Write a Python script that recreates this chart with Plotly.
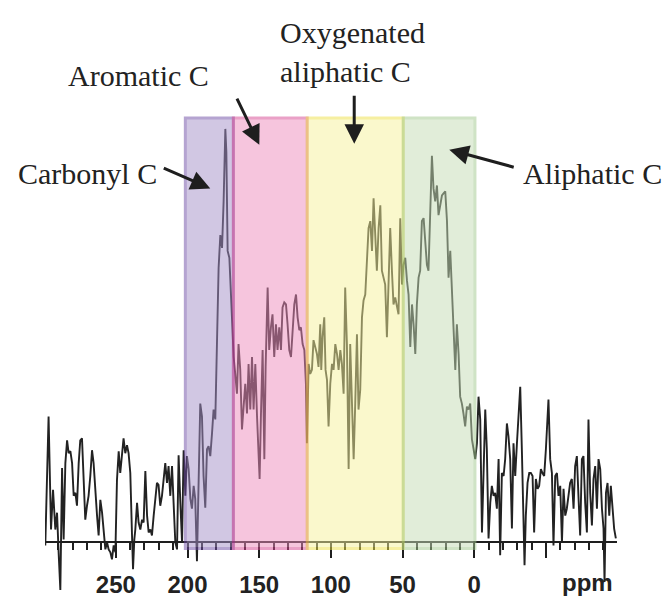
import plotly.graph_objects as go

# --- spectrum data (13C NMR, ppm vs. intensity, arbitrary units) ---
ppm = [
    299.2, 296.9, 295.2, 293.8, 292.2, 291.0, 289.9, 288.7, 287.5, 286.4, 285.2, 284.0, 282.9, 281.7, 280.5,
    279.4, 278.2, 277.1, 275.9, 274.8, 273.6, 272.4, 271.3, 270.1, 269.0, 267.8, 266.6, 265.5, 264.3, 263.1,
    262.0, 260.8, 259.6, 258.5, 257.3, 256.1, 255.0, 253.8, 252.7, 251.5, 250.3, 249.2, 248.0, 246.9, 245.7,
    244.6, 243.4, 242.2, 241.1, 239.9, 238.7, 238.0, 237.1, 236.4, 235.2, 234.1, 232.9, 231.7, 230.6, 229.4,
    228.2, 227.1, 225.9, 224.8, 223.6, 222.5, 221.3, 220.2, 219.0, 217.8, 216.7, 215.5, 214.3, 213.2, 212.0,
    210.8, 209.7, 208.5, 207.3, 206.2, 205.0, 203.8, 202.7, 201.5,
    200.4, 199.2, 198.0, 196.9, 195.7, 194.6, 193.4, 192.3, 191.1, 189.9, 188.8, 187.6, 186.4, 185.3, 184.1,
    182.9, 181.8, 180.6, 179.4, 178.3, 177.1, 175.9, 174.8, 173.6, 172.9, 172.0, 170.8, 170.2, 169.0, 167.8,
    166.7, 165.5, 164.4, 163.2, 162.0, 160.9, 159.7, 158.5, 157.4, 156.2, 155.0, 153.9, 152.7, 151.5, 150.4,
    149.7, 148.8, 147.6, 146.4, 145.5, 144.1, 143.0, 141.8, 140.7, 139.5, 138.3, 137.2, 136.0, 134.8, 133.7,
    132.5, 131.3, 130.2, 129.0, 127.8, 126.7, 125.5, 124.3, 123.2, 122.0, 120.9, 119.7, 118.5, 117.4, 116.7,
    115.5, 114.4, 113.2, 112.1, 110.9, 109.7, 108.6, 107.4, 106.7, 105.8, 104.6, 103.7, 102.7, 101.6, 100.4,
    99.2, 98.1, 96.9, 95.7, 94.6, 93.4, 92.3, 91.1, 90.0, 88.8, 87.6, 86.5, 85.3, 84.1, 83.0,
    81.8, 80.7, 79.5, 78.3, 77.2, 76.0, 74.8, 73.7, 72.5, 71.3, 70.2, 69.0, 67.9, 66.7, 65.5,
    64.4, 63.2, 62.1, 60.9, 59.7, 58.6, 57.4, 56.3, 55.1, 53.9, 52.8, 51.6, 50.4,
    49.3, 48.1, 46.9, 45.8, 44.6, 43.4, 42.3, 41.1, 40.0, 38.8, 37.7, 36.5, 35.3, 34.2, 33.0,
    31.9, 30.7, 29.5, 28.4, 27.2, 26.0, 24.9, 23.7, 22.5, 21.4, 20.2, 19.0, 17.9, 16.7, 15.6,
    14.4, 13.2, 12.1, 10.9, 9.8, 8.6, 7.5, 6.3, 5.1, 4.0, 2.8, 1.6,
    -0.7, -1.9, -3.0, -4.2, -5.4, -6.5, -7.7, -8.8, -10.0, -11.2, -12.3, -13.5, -14.6, -15.8, -17.0,
    -18.1, -19.3, -20.5, -21.6, -22.8, -23.9, -25.1, -26.3, -27.4, -28.6, -29.8, -30.9, -32.1, -33.3, -34.4,
    -35.1, -36.0, -37.2, -38.4, -39.5, -40.7, -41.8, -43.0, -44.2, -45.3, -46.5, -47.6, -48.8, -50.0, -51.1,
    -51.8, -53.0, -54.2, -55.3, -56.5, -57.7, -58.8, -60.0, -61.2, -62.3, -63.5, -64.6, -65.8, -66.9, -68.1,
    -69.3, -70.4, -71.6, -72.7, -73.9, -75.1, -76.2, -77.4, -78.6, -79.7, -80.9, -82.1, -83.2, -84.4, -85.6,
    -86.7, -87.9, -89.1, -90.2, -90.9, -91.9, -93.0, -94.2, -95.3, -96.5, -97.6, -98.8,
]
intensity = [
    -3, 127, 13, 53, 13, 30, -10, -48, 75, 3, 80, 103, 90, 92, 80,
    47, 50, 37, 80, 103, 105, 63, 23, 37, 47, 67, 93, 80, 47, 27,
    7, 43, 30, 13, -7, 0, -7, -10, -17, -3, -10, 63, 92, 70, 87,
    105, 90, 98, 90, 70, 7, -27, 3, 13, 40, 20, 13, 23, 20, 72,
    27, 10, 13, 7, 27, 47, 60, 58, 37, 47, 63, 80, 60, 77, 47,
    77, 40, 0, -7, 88, 40, 0, 93, 47,
    87, 74, 44, 34, 57, 44, -19, 44, 140, 127, 67, 35, 94, 97, 87,
    110, 134, 124, 194, 277, 310, 297, 344, 417, 394, 294, 287, 267, 227, 187,
    170, 150, 200, 174, 114, 137, 160, 130, 180, 134, 187, 134, 180, 127, 94,
    64, 127, 194, 84, 177, 257, 194, 217, 230, 187, 220, 194, 217, 194, 237,
    242, 240, 220, 194, 187, 214, 240, 250, 227, 214, 217, 200, 194, 160, 100,
    180, 170, 174, 204, 197, 190, 177, 220, 174, 207, 227, 174, 164, 117, 160,
    180, 174, 200, 190, 174, 194, 180, 150, 257, 200, 74, 200, 147, 84, 140,
    210, 134, 154, 227, 244, 250, 294, 317, 324, 294, 347, 307, 274, 317, 340,
    274, 267, 260, 207, 280, 317, 274, 240, 247, 237, 230, 327, 260,
    280, 287, 264, 250, 197, 240, 220, 190, 240, 267, 274, 324, 327, 307, 280,
    274, 340, 390, 357, 344, 360, 330, 340, 350, 352, 354, 324, 267, 294, 257,
    207, 174, 220, 190, 147, 140, 130, 117, 137, 134, 140, 104,
    84, 100, 147, 124, 10, 67, 134, 94, 4, 40, 57, 47, 50, 34, 84,
    -13, 70, 67, 84, 120, 107, 84, 14, 100, 67, 100, 127, 157, 90, 0,
    -23, 27, 60, 70, 70, 67, 10, 64, 54, 57, 74, 70, 67, 94, 124,
    144, 84, 70, -3, 67, 70, 47, 57, 0, 54, 27, 34, 50, 60, 64,
    34, 77, 87, 47, 7, 84, 87, 40, 10, 124, 50, 17, 64, 77, 34,
    84, 74, 34, 14, -40, 50, 60, 27, 57, 34, 14, 4,
]

# --- spectral regions (ppm) ---
region_names = ["Carbonyl C", "Aromatic C", "Oxygenated aliphatic C", "Aliphatic C"]
region_start = [201.5, 168.0, 116.5, 49.5]
region_end = [168.0, 116.5, 49.5, -0.5]
region_fill = ["rgb(165,145,201)", "rgb(239,141,189)", "rgb(247,243,155)", "rgb(197,221,181)"]
region_edge = ["rgb(110,75,165)", "rgb(215,70,145)", "rgb(238,225,70)", "rgb(160,200,140)"]

# --- axis ticks ---
tick_vals = [250, 200, 150, 100, 50, 0, -50]
tick_text = ["250", "200", "150", "100", "50", "0", ""]

fig = go.Figure()
fig.add_trace(go.Scatter(
    x=ppm, y=intensity, mode="lines",
    line=dict(color="#222222", width=1.9),
    hoverinfo="skip",
))

for x0, x1, fc, ec in zip(region_start, region_end, region_fill, region_edge):
    fig.add_shape(type="rect", xref="x", yref="y", x0=x0, x1=x1, y0=-6, y1=428,
                  fillcolor=fc, opacity=0.5, layer="above",
                  line=dict(color=ec, width=3))

serif = dict(family="Liberation Serif", size=30, color="#222222")

# text labels
fig.add_annotation(x=136.7, y=495, xref="x", yref="y", text="Oxygenated<br>aliphatic C",
                   showarrow=False, xanchor="left", yanchor="middle", align="left", font=serif)
fig.add_annotation(x=234.3, y=471, xref="x", yref="y", text="Aromatic C",
                   showarrow=False, xanchor="center", yanchor="middle", font=serif)
fig.add_annotation(x=269.9, y=372, xref="x", yref="y", text="Carbonyl C",
                   showarrow=False, xanchor="center", yanchor="middle", font=serif)
fig.add_annotation(x=-82.3, y=372, xref="x", yref="y", text="Aliphatic C",
                   showarrow=False, xanchor="center", yanchor="middle", font=serif)

# arrows (head at x,y; tail at ax,ay)
arrows = [
    (184.1, 357, 217.6, 378),
    (149.9, 401, 166.0, 449),
    (83.7, 402, 83.7, 452),
    (17.4, 396, -28.6, 378),
]
for hx, hy, tx, ty in arrows:
    fig.add_annotation(x=hx, y=hy, ax=tx, ay=ty, xref="x", yref="y", axref="x", ayref="y",
                       text="", showarrow=True, arrowhead=2, arrowsize=1.3, arrowwidth=3,
                       arrowcolor="#1e1e1e")

fig.add_annotation(x=-79, y=-40, xref="x", yref="y", text="ppm", showarrow=False,
                   xanchor="center", yanchor="middle",
                   font=dict(family="Liberation Sans", size=24, color="#222222", weight="bold"))

fig.update_layout(
    width=669, height=598,
    margin=dict(l=45, r=52, t=0, b=0),
    paper_bgcolor="white", plot_bgcolor="white",
    showlegend=False,
    xaxis=dict(
        range=[299.4, -99.6], anchor="free", position=51 / 598,
        showline=True, linecolor="#1e1e1e", linewidth=2,
        showgrid=False, zeroline=False,
        tickmode="array", tickvals=tick_vals, ticktext=tick_text,
        ticks="outside", ticklen=15, tickwidth=2, tickcolor="#1e1e1e",
        ticklabelstandoff=6,
        tickfont=dict(family="Liberation Sans", size=24, color="#222222", weight="bold"),
        minor=dict(ticks="outside", ticklen=7, tickwidth=1.5, tickcolor="#1e1e1e",
                   tickmode="linear", tick0=0, dtick=10, showgrid=False),
    ),
    yaxis=dict(range=[-51, 547], visible=False, showgrid=False, zeroline=False),
)

fig.write_html("out.html")
